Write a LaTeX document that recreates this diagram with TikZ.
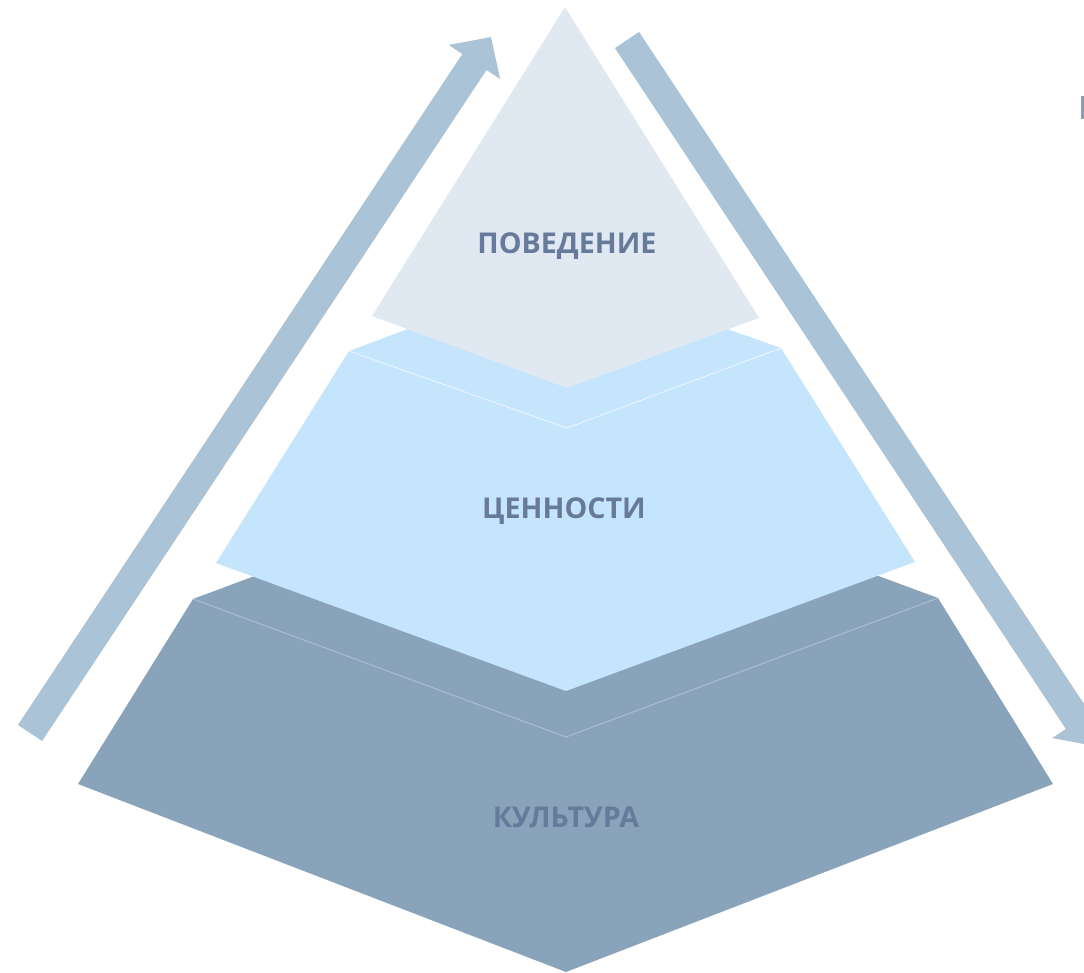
\documentclass[tikz,border=0pt]{standalone}
\usepackage{fontspec}
\setmainfont{Open Sans}
\usepackage{tikz}
\usetikzlibrary{arrows.meta}

\definecolor{tierTop}{HTML}{E0E8F1}
\definecolor{tierMid}{HTML}{C5E5FC}
\definecolor{tierLow}{HTML}{89A3BB}
\definecolor{band}{HTML}{ABC3D7}
\definecolor{ink}{HTML}{687A9B}

\begin{document}
\begin{tikzpicture}[x=0.75pt,y=-0.75pt,
  word/.style={font=\bfseries\fontsize{21.5}{26}\selectfont,text=ink},
  flow/.style={band,line width=21.75pt,-{Triangle[length=22.5pt,width=45pt]}},
  seam/.style={line width=0.75pt}]
\useasboundingbox (0,0) rectangle (1084,973);
\clip (0,0) rectangle (1084,973);

% arrows
\coordinate (upTail) at (30,733);
\coordinate (upTip) at (491,37);
\coordinate (downTail) at (627,40);
\coordinate (downTip) at (1094.5,746);
\draw[flow] (upTail) -- (upTip);
\draw[flow] (downTail) -- (downTip);

% lower tier
\fill[tierLow] (193,599) -- (565,460) -- (938,598) -- (1053,784) -- (566,972) -- (78,784) -- cycle;
\draw[seam,tierLow!70!white] (193,599) -- (566,737) -- (938,598);

% middle tier
\fill[tierMid] (349,351) -- (563,271) -- (781,348) -- (915,562) -- (566,691) -- (216,563) -- cycle;
\draw[seam,tierMid!40!white] (349,351) -- (567,428) -- (781,348);

% top tier
\fill[tierTop] (565,7) -- (759,318) -- (567,388) -- (372,316) -- cycle;

\node[word] (behav) at (567,246) {ПОВЕДЕНИЕ};
\node[word] (values) at (564,511) {ЦЕННОСТИ};
\node[word] (culture) at (566,817) {КУЛЬТУРА};

\fill[ink!75] (1081,96) rectangle (1084,119);
\end{tikzpicture}
\end{document}
